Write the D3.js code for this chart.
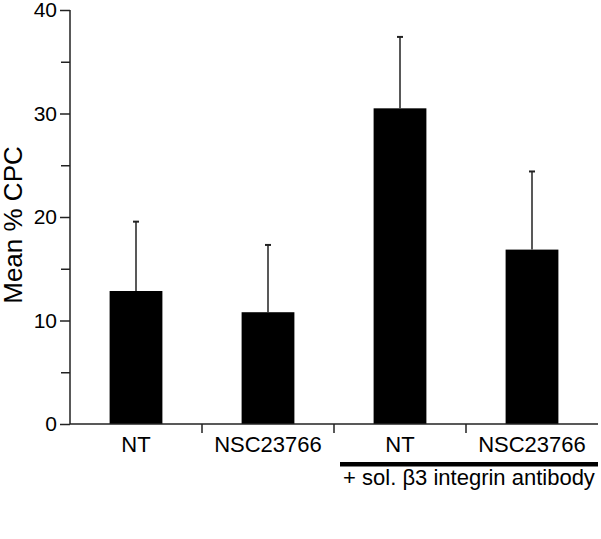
<!DOCTYPE html>
<html>
<meta charset="utf-8">
<style>
    body { margin: 0; background: #fff; }
    text { font-family: "Liberation Sans", Arial, sans-serif; fill: #000; }
    .axis path, .axis line { stroke: #222; stroke-width: 1.5px; }
</style>
<body>
<script src="https://d3js.org/d3.v7.min.js"></script>
<script>

    // data
    var categories = ["NT", "NSC23766", "NT ", "NSC23766 "];
    var means = [12.85, 10.8, 30.5, 16.85];
    var errors = [6.7, 6.5, 6.9, 7.55];
    var yTicks = [0, 10, 20, 30, 40];
    var yMinorTicks = [5, 15, 25, 35];
    var groupLabel = "+ sol. \u03b23 integrin antibody";

    var margin = { top: 10, right: 3, bottom: 115, left: 70 },
        width = 601 - margin.left - margin.right,
        height = 539 - margin.top - margin.bottom;

    var x = d3.scaleBand().domain(categories).range([0, width]).paddingInner(0.6).paddingOuter(0.3);
    var y = d3.scaleLinear().domain([0, 40]).range([height, 0]);

    var svg = d3.select("body").append("svg")
        .attr("width", 601)
        .attr("height", 539)
        .append("g")
        .attr("transform", "translate(" + margin.left + "," + margin.top + ")");

    // bars
    svg.selectAll(".bar")
        .data(categories)
        .enter().append("rect")
        .attr("class", "bar")
        .attr("x", function (d) { return x(d); })
        .attr("width", x.bandwidth())
        .attr("y", function (d, i) { return y(means[i]); })
        .attr("height", function (d, i) { return height - y(means[i]); })
        .attr("fill", "#000");

    // error bars (upper only)
    var eb = svg.selectAll(".err")
        .data(categories)
        .enter().append("g")
        .attr("class", "err")
        .attr("stroke", "#222")
        .attr("stroke-width", 1.5);
    eb.append("line")
        .attr("x1", function (d) { return x(d) + x.bandwidth() / 2; })
        .attr("x2", function (d) { return x(d) + x.bandwidth() / 2; })
        .attr("y1", function (d, i) { return y(means[i]); })
        .attr("y2", function (d, i) { return y(means[i] + errors[i]); });
    eb.append("line")
        .attr("x1", function (d) { return x(d) + x.bandwidth() / 2 - 3; })
        .attr("x2", function (d) { return x(d) + x.bandwidth() / 2 + 3; })
        .attr("y1", function (d, i) { return y(means[i] + errors[i]); })
        .attr("y2", function (d, i) { return y(means[i] + errors[i]); })
        .attr("stroke-width", 2);

    // y axis
    var yAxis = svg.append("g")
        .attr("class", "axis")
        .call(d3.axisLeft(y).tickValues(yTicks).tickSize(10).tickPadding(3).tickFormat(d3.format("d")));
    yAxis.selectAll("text").style("font-size", "21px");
    yAxis.select(".domain").attr("d", "M0," + height + "V0");
    svg.append("g")
        .attr("class", "axis")
        .call(d3.axisLeft(y).tickValues(yMinorTicks).tickSize(9).tickFormat(""))
        .select(".domain").remove();

    // x axis
    var step = x.step();
    var xAxis = svg.append("g")
        .attr("class", "axis")
        .attr("transform", "translate(0," + height + ")");
    xAxis.append("line").attr("x1", 0).attr("x2", width).attr("y1", 0).attr("y2", 0);
    xAxis.selectAll(".sep")
        .data(categories.slice(1))
        .enter().append("line")
        .attr("class", "sep")
        .attr("x1", function (d) { return x(d) - x.paddingInner() * step / 2; })
        .attr("x2", function (d) { return x(d) - x.paddingInner() * step / 2; })
        .attr("y1", 0).attr("y2", 9);
    xAxis.selectAll(".lab")
        .data(categories)
        .enter().append("text")
        .attr("x", function (d) { return x(d) + x.bandwidth() / 2; })
        .attr("y", 28)
        .attr("text-anchor", "middle")
        .style("font-size", "22px")
        .text(function (d) { return d.trim(); });

    // group bar under the antibody-treated bars
    var gx0 = x(categories[2]) - x.paddingInner() * step / 2 + 6;
    xAxis.append("rect")
        .attr("x", gx0)
        .attr("y", 38)
        .attr("width", width - gx0)
        .attr("height", 4.5)
        .attr("fill", "#000");
    xAxis.append("text")
        .attr("x", (gx0 + width) / 2)
        .attr("y", 61)
        .attr("text-anchor", "middle")
        .style("font-size", "22px")
        .text(groupLabel);

    // y axis label
    svg.append("text")
        .attr("transform", "rotate(-90)")
        .attr("x", -(y(20) + 8))
        .attr("y", -margin.left + 22)
        .attr("text-anchor", "middle")
        .style("font-size", "26px")
        .text("Mean % CPC");

</script>
</body>
</html>
